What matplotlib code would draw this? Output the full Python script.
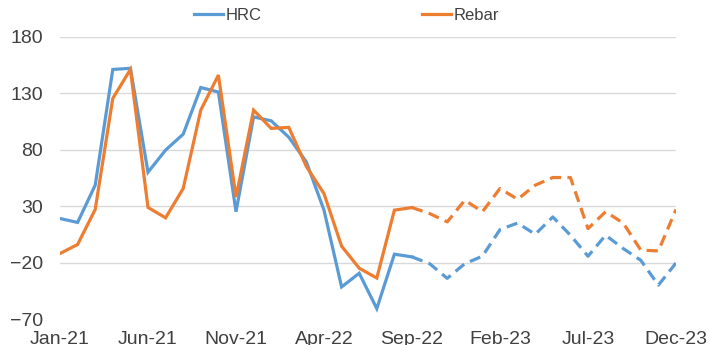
import matplotlib
matplotlib.use("Agg")
import matplotlib.pyplot as plt
import pandas as pd

# Monthly series, Jan-2021 .. Dec-2023
months = pd.date_range("2021-01-01", "2023-12-01", freq="MS").strftime("%b-%y").tolist()

hrc = [19, 15.5, 48.5, 151, 152, 60, 79.6, 93.7, 135, 131, 25, 109,
       105.5, 91, 69, 26.4, -41.6, -29.5, -60.8, -12.6, -15, -21, -34, -21,
       -14.4, 9.2, 15, 5, 20.4, 4.2, -14.4, 4.2, -7.6, -18, -40, -20.4]
rebar = [-12, -4, 27, 125.4, 151, 28.8, 19.6, 45.6, 115, 146, 38, 115,
         98.8, 99.7, 65, 41, -5.5, -25, -33.7, 26.4, 28.7, 23.4, 16, 35.2,
         25, 45.6, 36, 48.5, 55.3, 55.3, 10, 25, 15, -9, -9.7, 27]

forecast_start = "Sep-22"
y_ticks = [-70, -20, 30, 80, 130, 180]
x_tick_labels = months[::5]

BLUE = "#5B9BD5"
ORANGE = "#ED7D31"
TEXT = "#404040"

plt.rcParams["font.family"] = ["Liberation Sans", "DejaVu Sans"]

fig = plt.figure(figsize=(7.1, 3.45), dpi=100)
ax = fig.add_axes([60 / 710, 26 / 345, 616 / 710, 282.3 / 345])

x = list(range(len(months)))
k = months.index(forecast_start)

for vals, color, name in [(hrc, BLUE, "HRC"), (rebar, ORANGE, "Rebar")]:
    ax.plot(x[:k + 1], vals[:k + 1], color=color, lw=2.3, label=name,
            solid_joinstyle="miter")
    ax.plot(x[k:], vals[k:], color=color, lw=2.3, linestyle=(0, (3.5, 2)))

ax.set_xlim(0, len(months) - 1)
ax.set_ylim(-70, 180)
ax.set_yticks(y_ticks)
ax.set_xticks(x[::5])
ax.set_xticklabels(x_tick_labels)

for s in ax.spines.values():
    s.set_visible(False)
ax.tick_params(axis="both", length=0, labelsize=14, colors=TEXT)
ax.tick_params(axis="y", pad=12)
ax.tick_params(axis="x", pad=9)

for v in y_ticks[1:]:
    ax.axhline(v, color="#d9d9d9", lw=1.0, zorder=0)

handles, labels = ax.get_legend_handles_labels()
fig.legend(handles, labels, loc="center", bbox_to_anchor=(0.488, 0.956),
           ncol=2, frameon=False, fontsize=12, handlelength=1.75,
           handletextpad=0.15, columnspacing=9.6, labelcolor=TEXT)

fig.savefig("out.png", dpi=100)
